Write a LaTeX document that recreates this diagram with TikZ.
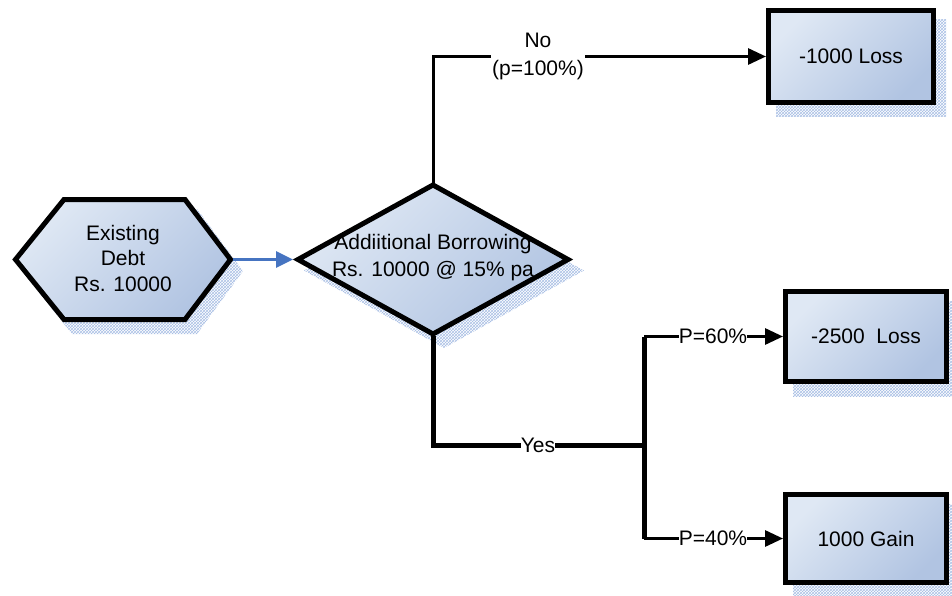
\documentclass[tikz,border=0pt]{standalone}
\usepackage{fontspec}
\setmainfont{Liberation Sans}
\usetikzlibrary{arrows.meta,patterns}
\definecolor{lightfill}{HTML}{DFE8F4}
\definecolor{darkfill}{HTML}{B1C4E2}
\definecolor{shadowc}{HTML}{A9BFE4}
\definecolor{arrowblue}{HTML}{4674C1}
\begin{document}
\begin{tikzpicture}[x=1pt,y=-1pt,
  shapefill/.style={draw=black,line width=5pt,line join=miter,top color=lightfill,bottom color=darkfill,shading angle=45},
  shadowpat/.style={pattern=crosshatch,pattern color=shadowc},
  outbox/.style={shapefill,rectangle,inner sep=0pt,font=\fontsize{21}{25}\selectfont},
  txt/.style={inner sep=0pt,align=center,font=\fontsize{21}{25.5}\selectfont},
  lbl/.style={fill=white,inner sep=1pt,align=center,font=\fontsize{21}{28}\selectfont},
  thinline/.style={line width=3pt},
  thickline/.style={line width=5pt},
  blackarrow/.style={-{Triangle[length=18pt,width=16pt]}},
  bluearrow/.style={draw=arrowblue,line width=3pt,-{Triangle[length=17pt,width=16pt]}}]
\useasboundingbox (0,0) rectangle (952,596);

% shadows
\fill[shadowpat] (22,271) -- (72,209) -- (197,209) -- (243,271) -- (197,334) -- (72,334) -- cycle;
\fill[shadowpat] (304,270.5) -- (444,193) -- (584,270.5) -- (444,348) -- cycle;
\fill[shadowpat] (776,20) rectangle (946,117);
\fill[shadowpat] (793,301) rectangle (959,396);
\fill[shadowpat] (793,504) rectangle (959,600);

% hexagon
\draw[shapefill] (15.5,259.5) -- (64,199.5) -- (185,199.5) -- (230.5,259.5) -- (185,319.5) -- (64,319.5) -- cycle;
\node[txt] (hex) at (123,258) {Existing\\Debt\\Rs. 10000};
\coordinate (hexE) at (233,259.5);

% diamond
\draw[shapefill] (298,259.5) -- (433,185) -- (568,259.5) -- (433,334) -- cycle;
\node[txt,font=\fontsize{21}{27}\selectfont] (dia) at (433,258) {Addiitional Borrowing\\Rs. 10000 @ 15\% pa};
\coordinate (diaW) at (293,259.5);
\coordinate (diaN) at (433,183);
\coordinate (diaS) at (433,336);

% outcome boxes
\node[outbox,minimum width=165pt,minimum height=92pt] (box1) at (851,56.5) {-1000 Loss};
\node[outbox,minimum width=161pt,minimum height=90pt] (box2) at (866,336.5) {-2500~~Loss};
\node[outbox,minimum width=161pt,minimum height=88pt] (box3) at (866,538.5) {1000 Gain};

% connectors
\draw[bluearrow] (hexE) -- (diaW);
\draw[thinline,blackarrow] (diaN) |- (box1.west);
\node[lbl] (nolbl) at (538,56) {No\\(p=100\%)};

\coordinate (jmid) at (644,445);
\coordinate (jtop) at (644,336.5);
\coordinate (jbot) at (644,538.5);
\draw[thickline] (diaS) |- (jmid);
\draw[thickline] (jtop) -- (jbot);
\node[lbl,inner sep=0pt] (yeslbl) at (538,445) {Yes};
\draw[thinline,blackarrow] (jtop) -- (box2.west);
\draw[thinline,blackarrow] (jbot) -- (box3.west);
\node[lbl,inner sep=0pt] (p60) at (713,336.5) {P=60\%};
\node[lbl,inner sep=0pt] (p40) at (713,538.5) {P=40\%};
\end{tikzpicture}
\end{document}
